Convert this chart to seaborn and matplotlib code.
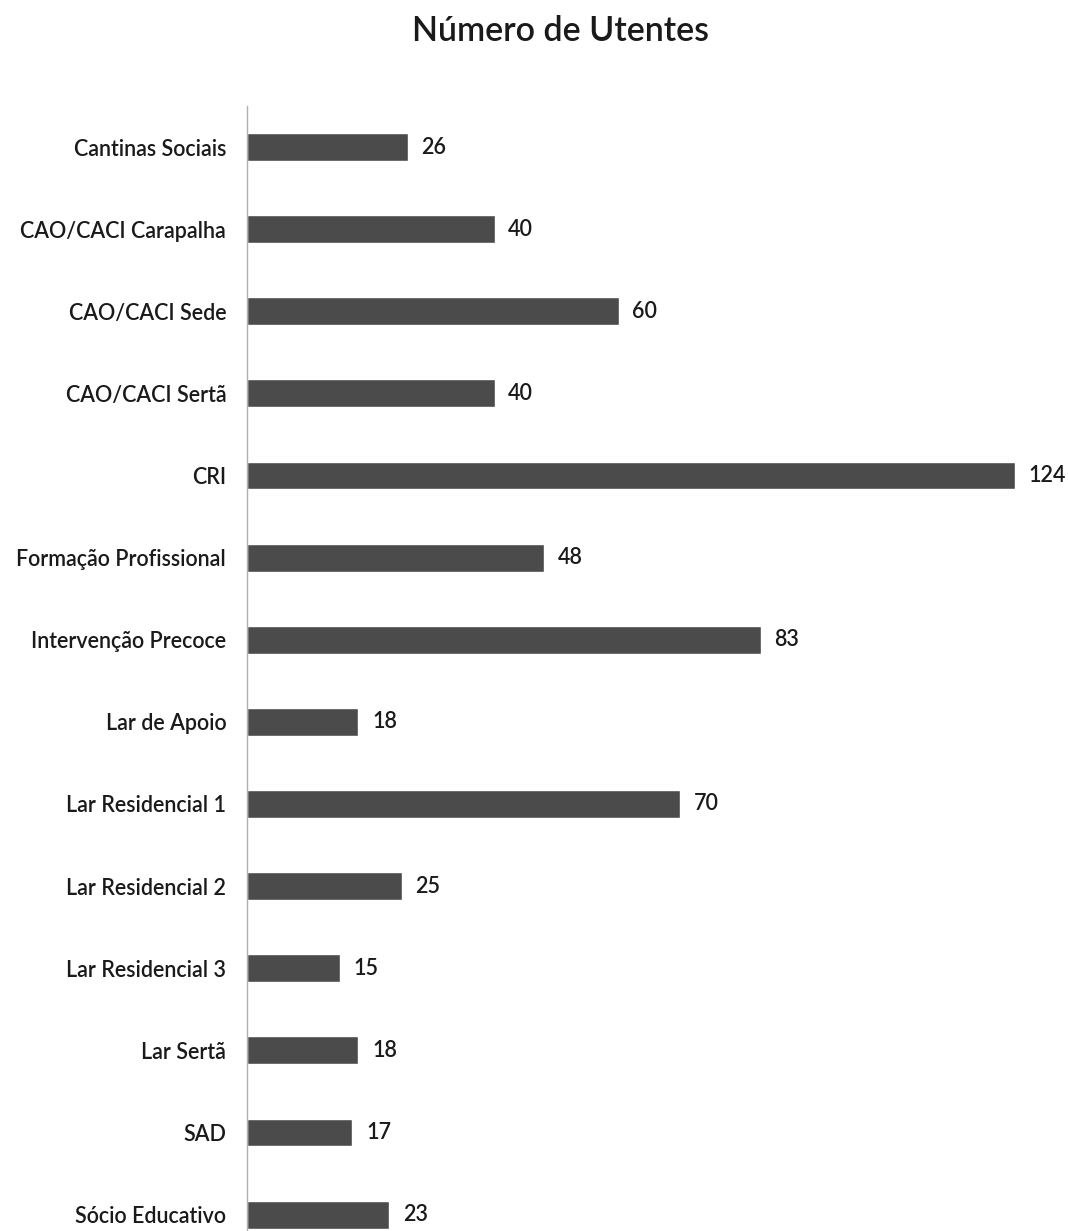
import matplotlib
matplotlib.use("Agg")
import matplotlib.pyplot as plt
import seaborn as sns
import pandas as pd

categories = ["Cantinas Sociais", "CAO/CACI Carapalha", "CAO/CACI Sede", "CAO/CACI Sertã",
              "CRI", "Formação Profissional", "Intervenção Precoce", "Lar de Apoio",
              "Lar Residencial 1", "Lar Residencial 2", "Lar Residencial 3", "Lar Sertã",
              "SAD", "Sócio Educativo"]
values = [26, 40, 60, 40, 124, 48, 83, 18, 70, 25, 15, 18, 17, 23]
title = "Número de Utentes"

sns.set_theme(style="white")
plt.rcParams['font.family'] = ['Lato', 'DejaVu Sans']

df = pd.DataFrame({"cat": categories, "val": values})

fig = plt.figure(figsize=(10.68, 12.31), dpi=100)
ax = fig.add_axes([247/1068, 0.0, (1052-247)/1068, 1 - 106/1231])
sns.barplot(data=df, y="cat", x="val", color="#4b4b4b", saturation=1, width=0.34, ax=ax, orient="h")
ax.set_xlim(0, 130)
ax.set_ylim(13.2, -0.5)
ax.set_xlabel("")
ax.set_ylabel("")
ax.set_xticks([])
for s in ["top", "right", "bottom"]:
    ax.spines[s].set_visible(False)
ax.spines["left"].set_color("#b0b0b0")
ax.spines["left"].set_linewidth(1.0)
ax.tick_params(axis="y", length=0, pad=15, labelsize=15.5, labelcolor="#1a1a1a")
for lab in ax.get_yticklabels():
    lab.set_fontweight("semibold")

for i, v in enumerate(values):
    ax.text(v + 2.2, i, str(v), va="center", ha="left", fontsize=15.5,
            fontweight="semibold", color="#1a1a1a")

fig.text(560/1068, 1 - 31/1231, title, ha="center", va="center", fontsize=24.5,
         fontweight="semibold", color="#1a1a1a")

fig.savefig("out.png", dpi=100, facecolor="white")
